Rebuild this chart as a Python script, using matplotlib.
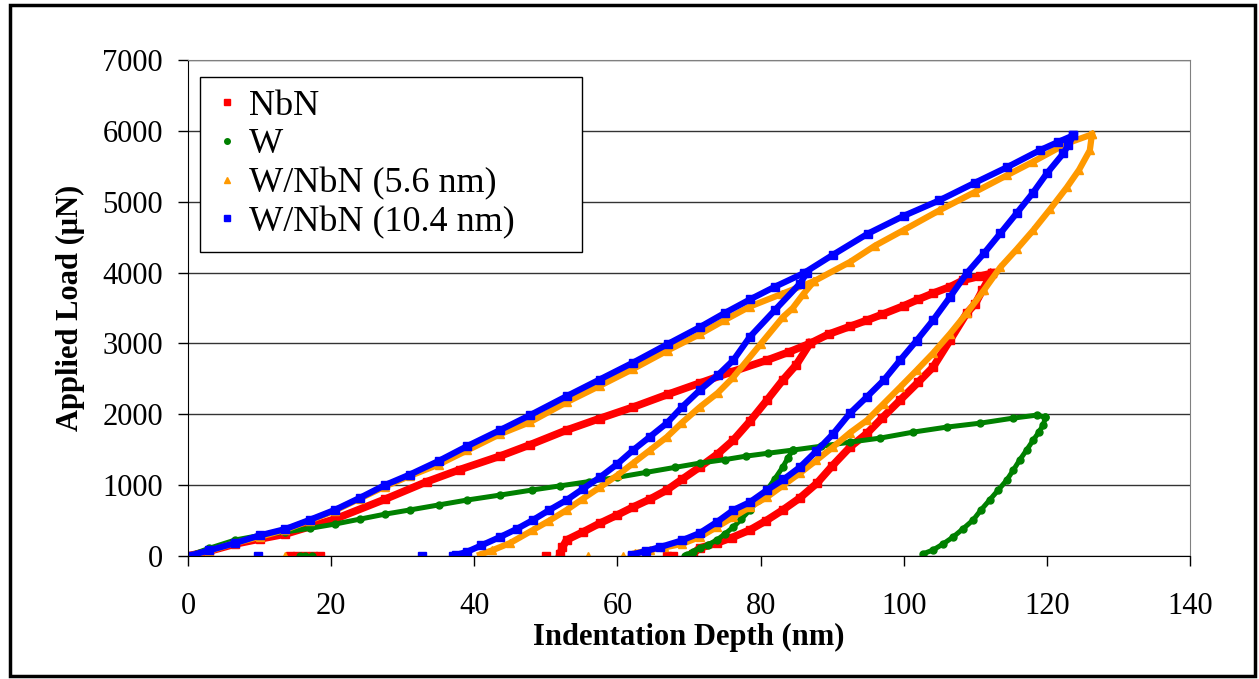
import matplotlib
matplotlib.use('Agg')
import matplotlib.pyplot as plt
from matplotlib.lines import Line2D
from matplotlib.patches import Rectangle

plt.rcParams['font.family'] = ['Liberation Serif', 'DejaVu Serif']

# NbN
nbn_load_x = [0, 3, 6.6, 10, 13.6, 20.5, 27.5, 33.4, 38, 43.6, 47.8, 52.9, 57.5, 62.2, 67, 71.5, 76, 80.9, 84, 86.9,
              89.5, 92.5, 94.9, 97, 100, 102, 104.1, 106.5, 108.3, 110.7, 112.3]
nbn_load_y = [0, 70, 170, 240, 310, 520, 800, 1050, 1220, 1410, 1570, 1777, 1940, 2101, 2280, 2440, 2600, 2764, 2880, 3000,
              3130, 3240, 3328, 3410, 3530, 3620, 3708, 3800, 3892, 3950, 3990]
nbn_unl1_x = [86.9, 85, 83.1, 80.9, 78.5, 76.2, 74, 71.5, 69, 66.9, 64.5, 62.2, 60, 57.6, 55.2, 52.9, 52.3, 52]
nbn_unl1_y = [3000, 2700, 2482, 2200, 1900, 1636, 1440, 1255, 1080, 931, 800, 691, 580, 465, 340, 226, 120, 30]
nbn_unl2_x = [112.3, 111, 110, 108.8, 106.5, 104.1, 102, 99.5, 97, 94.9, 92.5, 90, 87.9, 85.5, 83.1, 80.8, 78.5, 76,
              73.9, 71.5, 70.5]
nbn_unl2_y = [3990, 3750, 3560, 3426, 3050, 2665, 2450, 2200, 1950, 1734, 1537, 1270, 1029, 820, 649, 500, 367, 260,
              183, 113, 30]
nbn_zero_x = [14.2, 15.2, 16.3, 17.4, 18.4, 50.0, 66.9, 67.8]

# W
w_load_x = [0, 3, 6.6, 10, 13.6, 17, 20.5, 24, 27.5, 31, 35, 39, 43.6, 48, 52, 56, 60, 64, 68, 71.5, 75, 78, 81,
            84.5, 88.5, 92.5, 96.7, 101.3, 106, 110.7, 115.3, 118.6, 119.8]
w_load_y = [0, 110, 226, 290, 340, 390, 450, 520, 590, 650, 720, 790, 860, 930, 990, 1050, 1110, 1180, 1250, 1311,
            1360, 1410, 1450, 1495, 1550, 1607, 1664, 1748, 1819, 1875, 1946, 1988, 1960]
w_unl1_x = [84.5, 83.8, 83.1, 82, 80.9, 79.7, 78.5, 77.3, 76.2, 75, 73.9, 72.7, 71.5, 70.5, 69.7]
w_unl1_y = [1495, 1380, 1255, 1090, 931, 790, 649, 520, 409, 310, 226, 160, 113, 60, 15]
w_unl2_x = [119.8, 119.5, 118.9, 118.1, 117.2, 116.2, 115.3, 114.4, 113.2, 112, 110.8, 109.7, 108.3, 106.9, 105.5,
            104.1, 102.7]
w_unl2_y = [1960, 1850, 1750, 1636, 1500, 1354, 1210, 1072, 930, 790, 650, 508, 385, 268, 170, 85, 30]
w_zero_x = [15.6, 16.4, 17.3, 69.5, 70.2]

# W/NbN (5.6 nm)
a_load_x = [0, 3, 6.6, 10, 13.6, 17, 20.5, 24, 27.5, 31, 35, 39, 43.6, 47.8, 52.9, 57.5, 62.2, 67, 71.5, 75, 78.5,
            83, 87.5, 92.5, 96, 100, 105, 110, 114.4, 118, 122.8, 126.3]
a_load_y = [0, 70, 183, 270, 370, 500, 640, 810, 980, 1130, 1290, 1490, 1720, 1890, 2170, 2400, 2640, 2900, 3130,
            3330, 3520, 3700, 3880, 4150, 4380, 4600, 4879, 5140, 5372, 5560, 5823, 5950]
a_unl1_x = [87.5, 86, 84.5, 83.1, 80, 76.2, 74, 71.5, 69, 66.9, 64.5, 62.2, 60, 57.6, 55.2, 52.9, 50.5, 48.2, 45,
            42.5, 40.8]
a_unl1_y = [3880, 3700, 3500, 3370, 2990, 2524, 2300, 2101, 1880, 1678, 1490, 1311, 1140, 973, 810, 649, 500, 367,
            183, 80, 20]
a_unl2_x = [126.3, 126, 124.5, 122.8, 120.5, 118.1, 115.8, 113.5, 111.2, 108.8, 106.5, 104.1, 101.8, 99.5, 97.2,
            94.9, 92.5, 90.1, 87.8, 85.5, 83.2, 80.9, 78.5, 76.2, 73.9, 71.5, 69, 66.5, 64.6, 62.5]
a_unl2_y = [5950, 5725, 5450, 5203, 4900, 4597, 4330, 4075, 3750, 3426, 3140, 2862, 2620, 2383, 2150, 1918, 1740,
            1537, 1350, 1170, 1000, 832, 690, 550, 410, 268, 170, 120, 85, 40]
a_zero_x = [13.6, 55.9, 60.8]

# W/NbN (10.4 nm)
b_load_x = [0, 3, 6.6, 10, 13.6, 17, 20.5, 24, 27.5, 31, 35, 39, 43.6, 47.8, 52.9, 57.5, 62.2, 67, 71.5, 75, 78.5,
            82, 86, 90.1, 95, 100, 105, 110, 114.4, 119, 121.5, 123.7]
b_load_y = [0, 80, 183, 290, 380, 510, 650, 820, 1000, 1150, 1340, 1550, 1777, 1988, 2255, 2490, 2730, 2990, 3229,
            3430, 3620, 3800, 3990, 4250, 4550, 4800, 5020, 5270, 5485, 5725, 5840, 5936]
b_unl1_x = [86.5, 85.5, 82, 78.5, 76.2, 74, 71.5, 69, 66.9, 64.5, 62.2, 60, 57.6, 55.2, 52.9, 50.5, 48.2, 45.9,
            43.6, 41, 39, 37.5]
b_unl1_y = [4000, 3845, 3470, 3092, 2764, 2550, 2340, 2100, 1875, 1680, 1495, 1300, 1114, 950, 790, 650, 508, 380,
            268, 150, 60, 15]
b_unl2_x = [123.7, 123, 122.3, 120, 118, 115.8, 113.5, 111.2, 108.8, 106.5, 104.1, 101.8, 99.5, 97.2, 94.9, 92.5,
            90.1, 87.8, 85.5, 83.2, 80.9, 78.5, 76.2, 73.9, 71.5, 69, 66, 64, 62]
b_unl2_y = [5936, 5800, 5682, 5400, 5118, 4840, 4554, 4270, 3990, 3660, 3328, 3040, 2764, 2480, 2250, 2016, 1720,
            1480, 1255, 1080, 931, 760, 649, 480, 324, 220, 127, 70, 20]
b_zero_x = [9.8, 32.7, 37.0, 38.2, 62.0]

labels = ['NbN', 'W', 'W/NbN (5.6 nm)', 'W/NbN (10.4 nm)']
colors = ['#FF0000', '#008000', '#FF9900', '#0000FF']
markers = ['s', 'o', '^', 's']

series = [
    [(nbn_load_x, nbn_load_y), (nbn_unl1_x, nbn_unl1_y), (nbn_unl2_x, nbn_unl2_y)],
    [(w_load_x, w_load_y), (w_unl1_x, w_unl1_y), (w_unl2_x, w_unl2_y)],
    [(a_load_x, a_load_y), (a_unl1_x, a_unl1_y), (a_unl2_x, a_unl2_y)],
    [(b_load_x, b_load_y), (b_unl1_x, b_unl1_y), (b_unl2_x, b_unl2_y)],
]
zeros = [nbn_zero_x, w_zero_x, a_zero_x, b_zero_x]
widths = [5.5, 3.6, 4.5, 4.5]
msizes = [6, 5, 6, 5.5]

fig = plt.figure(figsize=(12.59, 6.79), dpi=100)
ax = fig.add_axes([188 / 1259, 1 - 556 / 679, 1002 / 1259, 496 / 679])

for segs, zx, c, m, lw, ms in zip(series, zeros, colors, markers, widths, msizes):
    for sx, sy in segs:
        ax.plot(sx, sy, color=c, lw=lw, marker=m, ms=ms, mec=c, mfc=c, solid_joinstyle='round')
    ax.plot(zx, [0] * len(zx), ls='none', color=c, marker=m, ms=ms, mec=c)

ax.set_xlim(0, 140)
ax.set_ylim(0, 7000)
ax.set_xticks(range(0, 141, 20))
ax.set_yticks(range(0, 7001, 1000))
ax.tick_params(axis='both', direction='out', length=7, width=1, labelsize=22, color='black')
ax.tick_params(axis='y', pad=11)
ax.tick_params(axis='x', pad=19)
ax.yaxis.grid(True, color='#333333', lw=1)
ax.set_axisbelow(True)
for s in ['top', 'right']:
    ax.spines[s].set_color('#808080')
for s in ['left', 'bottom']:
    ax.spines[s].set_color('black')

ax.set_xlabel('Indentation Depth (nm)', fontsize=22, fontweight='bold')
ax.xaxis.set_label_coords(0.5, -0.135)
ax.set_ylabel('Applied Load (μN)', fontsize=22, fontweight='bold')
ax.yaxis.set_label_coords(-0.103, 0.5)

handles = [Line2D([], [], ls='none', marker=m, color=c, ms=4) for m, c in zip(markers, colors)]
leg = ax.legend(handles, labels, loc='upper left', bbox_to_anchor=(0.012, 0.631, 0.381, 0.335),
                mode='expand', fontsize=26, frameon=True, fancybox=False, edgecolor='black', framealpha=1,
                borderaxespad=0, labelspacing=0.15, handlelength=0.8, handletextpad=0.2, borderpad=0.35)
leg.get_frame().set_linewidth(1)

fig.patches.append(Rectangle((0.0079, 0.0044), 0.9889, 0.9882, transform=fig.transFigure,
                             fill=False, lw=2.5, ec='black'))

fig.savefig('out.png', dpi=100)
